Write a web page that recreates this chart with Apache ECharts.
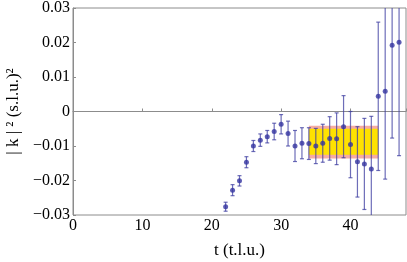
<!DOCTYPE html>
<html><head><meta charset="utf-8">
<script src="https://cdn.jsdelivr.net/npm/echarts@6/dist/echarts.min.js"></script>
<style>html,body{margin:0;padding:0;background:#fff}#c{width:407px;height:262px}</style>
</head><body><div id="c"></div>
<script>
const times = [22,23,24,25,26,27,28,29,30,31,32,33,34,35,36,37,38,39,40,41,42,43,44,45,46,47];
const values = [-0.0276,-0.0228,-0.0201,-0.0147,-0.0100,-0.0083,-0.0073,-0.0058,-0.0037,-0.0064,-0.0100,-0.0092,-0.0093,-0.0100,-0.0092,-0.0078,-0.0079,-0.0044,-0.0096,-0.0146,-0.0152,-0.0167,0.0044,0.0059,0.0192,0.0201];
const errors = [0.0013,0.0016,0.0015,0.0016,0.0016,0.0018,0.0018,0.0024,0.0028,0.0036,0.0045,0.0045,0.0046,0.0051,0.0055,0.0063,0.0075,0.0090,0.0096,0.0102,0.0132,0.0153,0.0215,0.0255,0.0269,0.0329];
const bandT = [34, 44];
const bandOuter = [-0.0136, -0.0041];
const bandInner = [-0.0125, -0.0050];
const xTicks = [0, 10, 20, 30, 40];
const yTicks = [-0.03, -0.02, -0.01, 0, 0.01, 0.02, 0.03];

const font = '"Liberation Serif", "DejaVu Serif", serif';
const fmtY = v => {
  if (Math.abs(v) < 1e-9) return '0';
  const s = Math.abs(v).toFixed(2);
  return v < 0 ? '\u2212' + s : s;
};

const chart = echarts.init(document.getElementById('c'), null, {renderer: 'canvas'});
chart.setOption({
  animation: false,
  grid: {left: 73, right: 1, top: 8, bottom: 47, containLabel: false, outerBoundsMode: 'none',
    show: true, borderColor: '#8c8c8c', borderWidth: 1},
  xAxis: {
    type: 'value', min: 0, max: 48, interval: 10,
    name: 't (t.l.u.)', nameLocation: 'middle', nameGap: 27,
    nameTextStyle: {fontFamily: font, fontSize: 17, color: '#000'},
    axisLine: {show: true, lineStyle: {color: '#8c8c8c'}},
    axisTick: {show: true, inside: true, length: 3, lineStyle: {color: '#8c8c8c'}},
    axisLabel: {fontFamily: font, fontSize: 16, color: '#000', margin: 3,
      formatter: v => xTicks.includes(v) ? String(v) : ''},
    splitLine: {show: false}
  },
  yAxis: {
    type: 'value', min: -0.03, max: 0.03, interval: 0.01,
    name: '| k | \u00B2 (s.l.u.)\u00B2', nameLocation: 'middle', nameGap: 50,
    nameTextStyle: {fontFamily: font, fontSize: 17, color: '#000'},
    axisLine: {show: true, lineStyle: {color: '#8c8c8c'}},
    axisTick: {show: true, inside: true, length: 3, lineStyle: {color: '#8c8c8c'}},
    axisLabel: {fontFamily: font, fontSize: 16, color: '#000', margin: 3, formatter: fmtY},
    splitLine: {show: false}
  },
  series: [
    {
      type: 'custom', clip: true, z: 1,
      data: [[bandT[0], bandT[1], bandOuter[0], bandOuter[1], bandInner[0], bandInner[1]]],
      renderItem: (params, api) => {
        const p1 = api.coord([api.value(0), api.value(3)]);
        const p2 = api.coord([api.value(1), api.value(2)]);
        const q1 = api.coord([api.value(0), api.value(5)]);
        const q2 = api.coord([api.value(1), api.value(4)]);
        return {type: 'group', children: [
          {type: 'rect', shape: {x: p1[0], y: p1[1], width: p2[0]-p1[0], height: p2[1]-p1[1]}, style: {fill: '#f6aca2'}},
          {type: 'rect', shape: {x: q1[0], y: q1[1], width: q2[0]-q1[0], height: q2[1]-q1[1]}, style: {fill: '#ffe200'}}
        ]};
      }
    },
    {
      type: 'line', data: [[0, 0], [48, 0]], symbol: 'none', z: 2, silent: true,
      lineStyle: {color: '#8c8c8c', width: 1}
    },
    {
      type: 'custom', clip: true, z: 3,
      data: times.map((t, i) => [t, values[i] - errors[i], values[i] + errors[i]]),
      renderItem: (params, api) => {
        const lo = api.coord([api.value(0), api.value(1)]);
        const hi = api.coord([api.value(0), api.value(2)]);
        const c = 'rgba(60,60,160,0.75)';
        const w = 2;
        return {type: 'group', children: [
          {type: 'line', shape: {x1: lo[0], y1: lo[1], x2: hi[0], y2: hi[1]}, style: {stroke: c, lineWidth: 1.2}},
          {type: 'line', shape: {x1: lo[0]-w, y1: lo[1], x2: lo[0]+w, y2: lo[1]}, style: {stroke: c, lineWidth: 1.2}},
          {type: 'line', shape: {x1: hi[0]-w, y1: hi[1], x2: hi[0]+w, y2: hi[1]}, style: {stroke: c, lineWidth: 1.2}}
        ]};
      }
    },
    {
      type: 'scatter', z: 4, symbol: 'circle', symbolSize: 5,
      itemStyle: {color: '#3434a0'},
      data: times.map((t, i) => [t, values[i]])
    }
  ]
});
</script>
</body></html>
